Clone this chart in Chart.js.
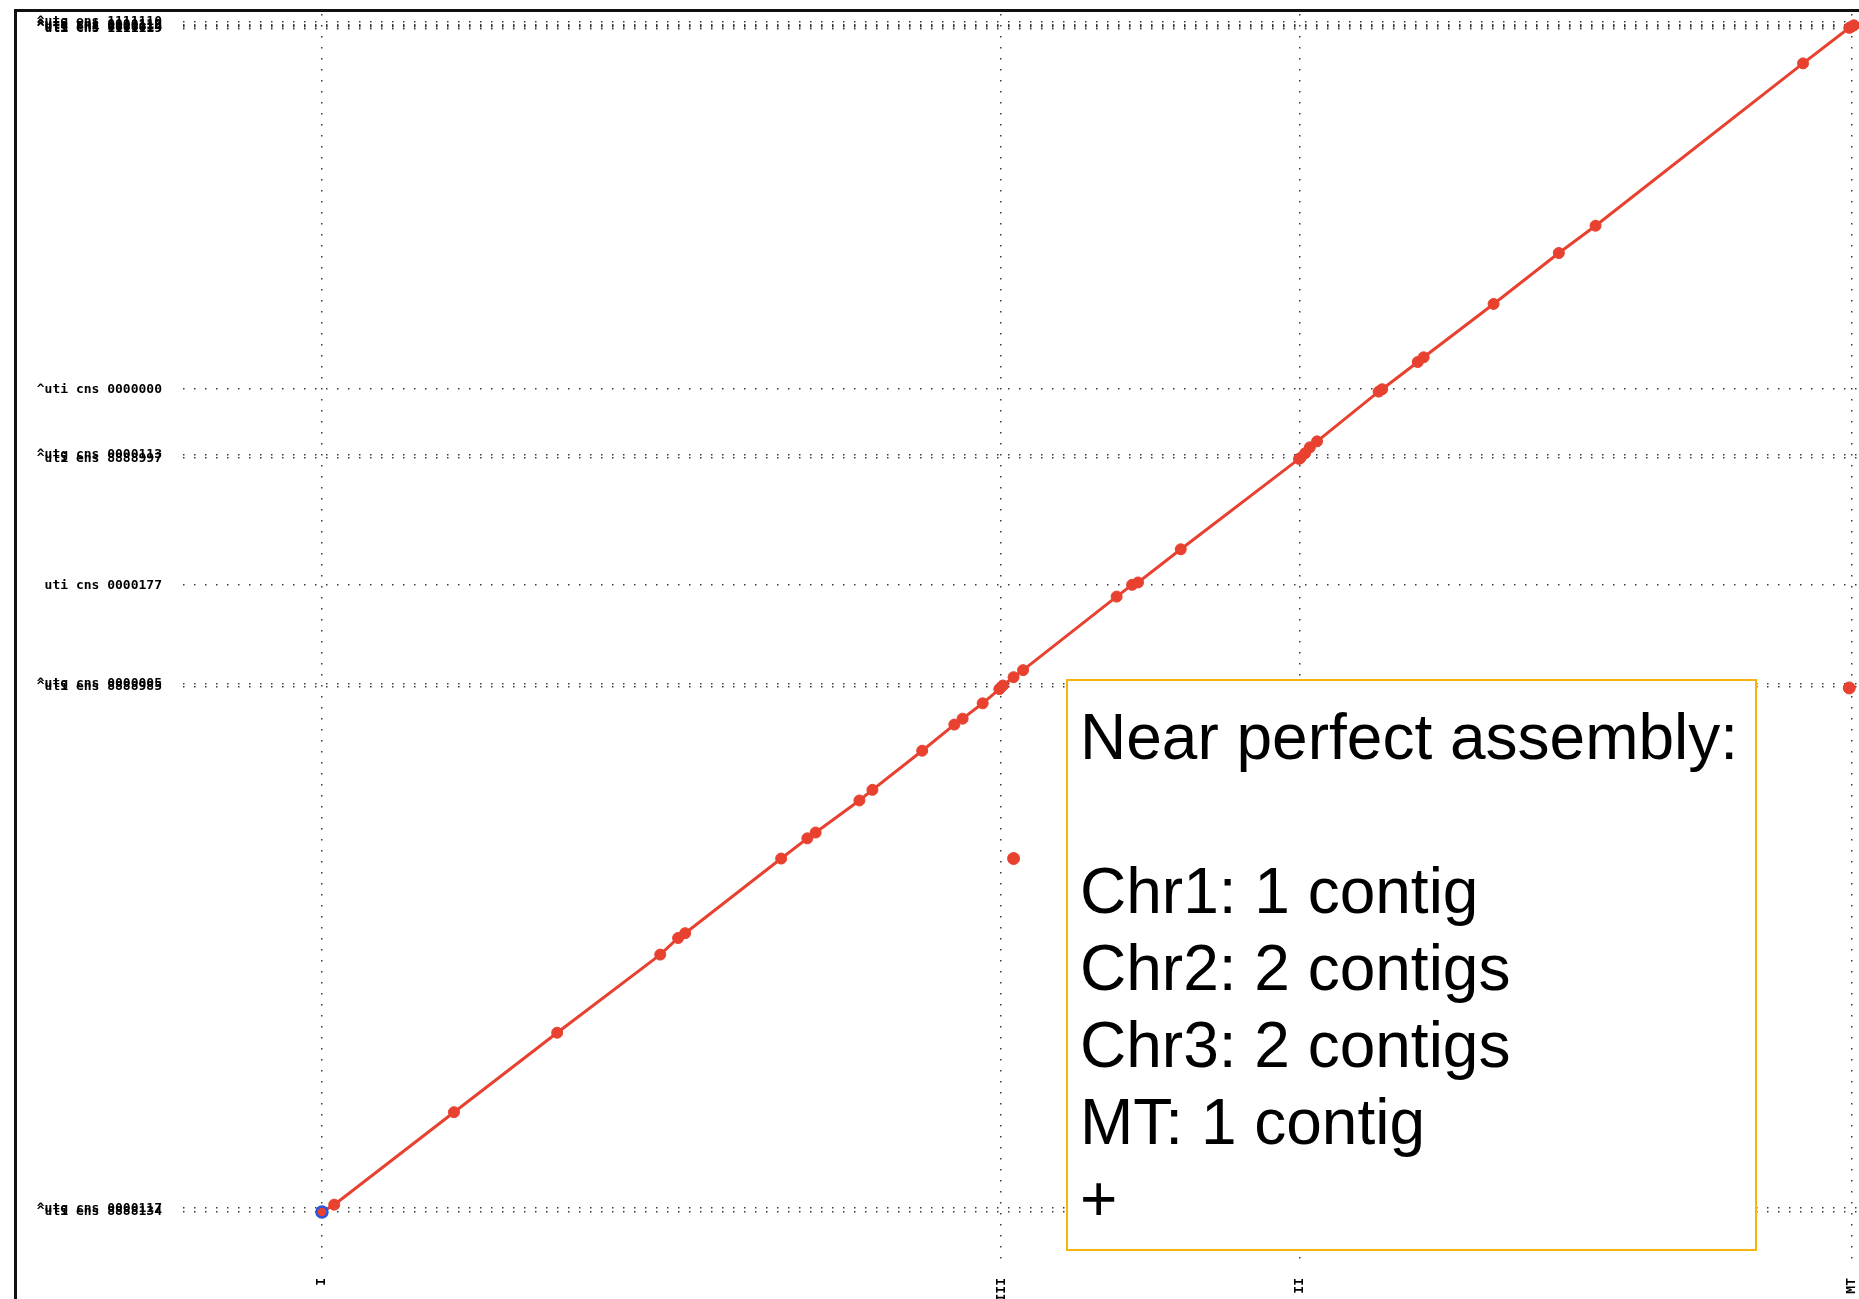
<!DOCTYPE html>
<html>
<head>
<meta charset="utf-8">
<title>Assembly vs reference dot plot</title>
<script src="https://cdn.jsdelivr.net/npm/chart.js@4.4.1/dist/chart.umd.min.js"></script>
<style>
  html, body { margin: 0; padding: 0; background: #ffffff; }
  #wrap { position: relative; width: 1859px; height: 1299px; overflow: hidden; }
  #plot { position: absolute; left: 0; top: 0; }
  #note {
    position: absolute; left: 1066px; top: 679px; width: 691px; height: 572px;
    box-sizing: border-box; border: 2.5px solid #f6b40f; background: #ffffff;
    padding: 18px 0 0 12px;
    font-family: "Liberation Sans", Arial, Helvetica, sans-serif;
    font-size: 64px; line-height: 77px; color: #000000; white-space: pre;
  }
</style>
</head>
<body>
<div id="wrap">
  <canvas id="plot" width="1859" height="1299"></canvas>
  <div id="note">Near perfect assembly:

Chr1: 1 contig
Chr2: 2 contigs
Chr3: 2 contigs
MT: 1 contig
+</div>
</div>
<script>
// Reference sequences along x (start positions, Mb)
const refStarts = [0, 5.582, 8.032, 12.570];
const refNames  = ['I', 'III', 'II', 'MT'];

// Contig start positions along y (Mb) and their names
const contigStarts = [0, 0.040, 5.569, 5.609, 6.650, 7.997, 8.037, 8.729,
                      12.555, 12.570, 12.585, 12.600, 12.625];
const contigNames  = ['^uti ens 8888134', '^utg cns 0000117',
                      '^uti ens 8888985', '^utg cns 0000005',
                      'uti cns 0000177',
                      '^uti ens 8888997', '^utg cns 0000113',
                      '^uti cns 0000000',
                      '^uti cns 1111119', '^uti ens 0000014', '^utg cni 1111116',
                      '^uti cns 0000119', '^utg ens 1111110'];

// Alignment endpoints along the main diagonal (reference Mb, contig Mb)
const alnX = [0, 0.101, 1.085, 1.933, 2.780, 2.927, 2.985, 3.774, 3.989, 4.057,
              4.417, 4.524, 4.933, 5.197, 5.265, 5.430, 5.567, 5.580, 5.596, 5.684,
              5.762, 6.531, 6.658, 6.707, 7.058, 8.030, 8.042, 8.080, 8.119, 8.178,
              8.684, 8.713, 9.006, 9.054, 9.629, 10.165, 10.467, 12.172, 12.552,
              12.571, 12.590];
const alnY = [0, 0.078, 1.059, 1.902, 2.731, 2.907, 2.958, 3.750, 3.964, 4.026,
              4.366, 4.479, 4.894, 5.171, 5.234, 5.397, 5.548, 5.565, 5.586, 5.674,
              5.749, 6.529, 6.654, 6.679, 7.031, 7.990, 8.000, 8.050, 8.113, 8.176,
              8.704, 8.729, 9.018, 9.068, 9.634, 10.174, 10.464, 12.186, 12.563,
              12.576, 12.590];

// Short off-diagonal hits
const hitX = [5.684, 12.552];
const hitY = [3.750, 5.560];

// Reverse-strand hit at the origin
const revX = [0];
const revY = [0];

const RED = '#e8412f';
const BLUE = '#2a55e0';
const GRID = '#3a3a3a';
const monoFont = { family: '"DejaVu Sans Mono", "Liberation Mono", monospace', size: 13, weight: 'bold' };

const toPts = (xs, ys) => xs.map((x, i) => ({ x: x, y: ys[i] }));

// Dark frame on the left and top edges of the page
const framePlugin = {
  id: 'frame',
  afterDraw(chart) {
    const ctx = chart.ctx;
    ctx.save();
    ctx.fillStyle = '#111111';
    ctx.fillRect(14, 9, 3, chart.height - 9);
    ctx.fillRect(14, 9, chart.width - 14, 3);
    ctx.restore();
  }
};
const bgPlugin = {
  id: 'bg',
  beforeDraw(chart) {
    const ctx = chart.ctx;
    ctx.save();
    ctx.fillStyle = '#ffffff';
    ctx.fillRect(0, 0, chart.width, chart.height);
    ctx.restore();
  }
};

new Chart(document.getElementById('plot'), {
  type: 'scatter',
  data: {
    datasets: [
      {
        data: toPts(alnX, alnY),
        showLine: true,
        borderColor: RED,
        borderWidth: 3,
        backgroundColor: RED,
        pointBackgroundColor: RED,
        pointBorderColor: RED,
        pointBorderWidth: 1,
        pointRadius: 5.5,
        tension: 0,
        clip: false,
        order: 2
      },
      {
        data: toPts(hitX, hitY),
        showLine: false,
        backgroundColor: RED,
        borderColor: RED,
        pointRadius: 6,
        clip: false,
        order: 2
      },
      {
        data: toPts(revX, revY),
        showLine: false,
        backgroundColor: 'rgba(0,0,0,0)',
        borderColor: BLUE,
        borderWidth: 2.5,
        pointRadius: 5.5,
        clip: false,
        order: 1
      }
    ]
  },
  options: {
    responsive: false,
    devicePixelRatio: 1,
    animation: false,
    events: [],
    layout: { autoPadding: false, padding: { left: 0, right: 0, top: 14, bottom: 0 } },
    plugins: { legend: { display: false }, tooltip: { enabled: false }, title: { display: false } },
    scales: {
      x: {
        type: 'linear',
        min: -1.142,
        max: 12.632,
        afterBuildTicks(scale) { scale.ticks = refStarts.map(v => ({ value: v })); },
        afterFit(scale) { scale.height = 31; scale.paddingLeft = 0; scale.paddingRight = 0; },
        grid: { display: true, color: GRID, lineWidth: 1.5, drawTicks: false },
        border: { display: false, dash: [1.5, 9.5] },
        ticks: {
          autoSkip: false,
          minRotation: 90,
          maxRotation: 90,
          padding: 10,
          color: '#000000',
          font: monoFont,
          callback: (v, i) => refNames[i]
        }
      },
      y: {
        type: 'linear',
        min: -0.594,
        max: 12.71,
        afterBuildTicks(scale) { scale.ticks = contigStarts.map(v => ({ value: v })); },
        afterFit(scale) { scale.width = 183; scale.paddingTop = 0; scale.paddingBottom = 0; },
        grid: { display: true, color: GRID, lineWidth: 1.5, drawTicks: false },
        border: { display: false, dash: [1.5, 9.5] },
        ticks: {
          autoSkip: false,
          padding: 21,
          color: '#000000',
          font: monoFont,
          callback: (v, i) => contigNames[i]
        }
      }
    }
  },
  plugins: [bgPlugin, framePlugin]
});
</script>
</body>
</html>
